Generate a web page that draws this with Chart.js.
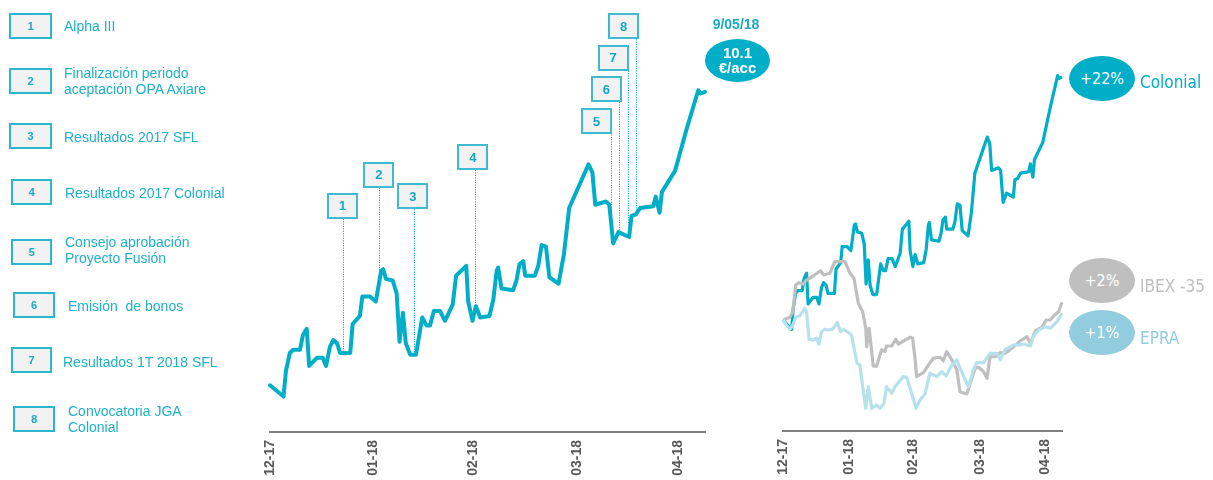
<!DOCTYPE html>
<html><head><meta charset="utf-8">
<script src="https://cdn.jsdelivr.net/npm/chart.js@4.4.1/dist/chart.umd.min.js"></script>
<style>
html,body{margin:0;padding:0;background:#fff;}
#wrap{position:relative;width:1213px;height:480px;overflow:hidden;font-family:"Liberation Sans",Arial,sans-serif;}
canvas{position:absolute;left:0;top:0;}
.lb{position:absolute;box-sizing:border-box;border:2px solid #2cb6cd;background:#f2f2f2;color:#1aa9c4;font-weight:bold;font-size:11px;display:flex;align-items:center;justify-content:center;}
.eb{position:absolute;box-sizing:border-box;border:2px solid #3fbad0;background:#f2f2f2;color:#14a8c3;font-weight:bold;font-size:13px;display:flex;align-items:center;justify-content:center;}
.lt{position:absolute;color:#1fb0ca;font-size:14px;line-height:16px;white-space:pre;}
.bub{position:absolute;border-radius:50%;color:#fff;display:flex;align-items:center;justify-content:center;text-align:center;}
.sl{position:absolute;font-family:"DejaVu Sans Condensed","DejaVu Sans",sans-serif;font-size:17px;white-space:pre;line-height:20px;}
</style></head><body><div id="wrap">
<canvas id="c1" width="1213" height="480"></canvas>
<canvas id="c2" width="1213" height="480"></canvas>
</div>
<script>
// ---------- DATA ----------
const monthLabels = ['12-17','01-18','02-18','03-18','04-18'];
const monthTickDay = [0, 21.4, 42.1, 63.6, 84.5];

// Colonial share price (EUR) – left chart
const colonialDay = [0,2.8,3.3,4.1,4.8,6.2,6.8,7.6,8.1,9.7,10.9,11.6,12.4,13.1,13.9,14.5,16.6,17.1,18.6,19.1,20.7,21.9,23.0,23.4,24.0,25.4,26.2,26.8,27.5,28.1,29.0,30.2,31.5,32.4,33.1,33.9,35.2,36.2,37.8,38.5,40.6,41.0,41.9,42.6,43.5,45.4,46.2,46.9,47.2,47.9,50.3,51.0,51.6,52.4,52.8,54.8,55.5,56.2,57.1,57.8,59.7,60.8,61.9,65.9,66.7,67.3,69.5,70.2,71.0,72.1,74.3,74.8,75.7,76.6,79.3,79.8,80.6,81.1,83.8,86.2,88.6,89.1,90.0];
const colonialPrice = [8.29,8.22,8.38,8.49,8.51,8.51,8.60,8.64,8.41,8.46,8.46,8.41,8.53,8.57,8.55,8.49,8.49,8.67,8.72,8.84,8.84,8.81,9.00,9.01,8.95,8.94,8.86,8.56,8.74,8.55,8.48,8.48,8.71,8.66,8.66,8.75,8.75,8.69,8.79,8.97,9.03,8.81,8.69,8.78,8.71,8.72,8.82,9.00,9.02,8.89,8.88,8.94,9.04,9.06,8.97,8.97,9.03,9.16,9.15,8.96,8.92,9.10,9.39,9.66,9.61,9.41,9.43,9.41,9.17,9.24,9.21,9.34,9.35,9.39,9.40,9.46,9.36,9.49,9.62,9.88,10.12,10.10,10.11];
// Colonial performance (%) rebased on first price – right chart
const colonialPct = colonialPrice.map(p => (p / colonialPrice[0] - 1) * 100);

const ibexDay = [0,2.2,3.2,4.1,5.2,6.5,7.6,9.7,12.1,13.2,15.1,16.7,20.0,21.6,22.9,24.3,25.7,26.7,27.0,27.8,29.1,30.2,31.8,32.9,33.4,35.1,36.4,37.2,39.4,41.0,41.8,42.6,43.1,45.3,46.9,48.5,50.7,51.7,52.8,54.8,56.1,57.1,59.3,60.4,62.0,63.1,64.7,65.8,66.8,68.5,70.1,71.7,74.4,76.5,78.7,79.8,81.4,83.5,84.9,86.2,87.3,88.9,90.0];
const ibexPct = [0,0.24,0.75,3.16,3.37,3.25,3.61,3.97,4.45,4.07,4.22,5.27,5.27,4.22,3.77,1.51,0.75,-0.75,-2.41,-0.75,-4.16,-4.16,-2.71,-2.86,-2.35,-2.35,-1.74,-2.17,-1.81,-1.56,-1.65,-3.46,-5.12,-4.76,-4.07,-3.46,-3.37,-3.68,-2.86,-3.77,-4.52,-6.48,-6.68,-5.72,-4.36,-4.27,-4.67,-5.27,-3.32,-3.32,-2.95,-3.01,-2.41,-1.90,-1.51,-2.10,-0.97,-0.66,0,0,0.36,0.75,1.6];

const epraDay = [0,1.1,2.2,3.2,4.1,5.4,7.0,7.6,8.4,9.7,10.8,11.6,12.4,13.5,14.6,16.0,17.5,18.6,19.4,20.7,22.1,22.6,23.9,24.8,25.7,26.7,27.5,28.6,30.2,31.3,32.6,33.4,35.1,36.1,38.8,39.9,41.5,42.9,44.2,45.8,47.4,49.6,51.2,52.6,54.5,56.1,57.1,59.8,61.4,62.5,64.7,66.8,69.0,70.1,71.7,74.4,76.5,77.6,79.8,80.8,82.4,84.6,86.2,88.4,90.0];
const epraPct = [0,-0.45,-0.84,-0.45,0.24,0.36,1.06,0.75,-1.74,-1.81,-1.65,-2.17,-1.06,-0.84,-0.90,-0.84,-0.24,-1.06,-0.84,-1.06,-1.36,-2.10,-3.91,-4.07,-6.03,-7.98,-6.03,-7.98,-7.68,-7.98,-7.52,-6.03,-6.62,-6.03,-5.12,-5.18,-6.62,-7.98,-7.23,-6.68,-4.81,-5.12,-4.67,-5.06,-4.07,-3.61,-4.36,-6.03,-4.52,-3.86,-3.86,-3.01,-3.01,-3.61,-2.65,-2.26,-2.26,-2.17,-2.35,-1.51,-0.90,-0.61,-0.75,-0.15,0.61];

const eventNumbers = ['1','2','3','4','5','6','7','8'];
const eventDay = [15.2,22.5,29.8,42.5,70.5,72.3,74.0,75.7];
const eventTexts = ['Alpha III','Finalización periodo\naceptación OPA Axiare','Resultados 2017 SFL','Resultados 2017 Colonial','Consejo aprobación\nProyecto Fusión','Emisión  de bonos','Resultados 1T 2018 SFL','Convocatoria JGA\nColonial'];

const lastDateLabel = '9/05/18';
const lastPriceLabel = ['10.1','€/acc'];
const seriesNames = ['Colonial','IBEX -35','EPRA'];
const perfLabels = ['+22%','+2%','+1%'];

// ---------- LAYOUT / STYLE ----------
const TEAL = '#00aec8', GREY = '#bfbfbf', LBLUE = '#b7e1ec';
const legendLayout = [
  {bx:9,by:13,bw:43,tx:64,ty:18},
  {bx:9,by:68,bw:43,tx:64,ty:65},
  {bx:9,by:123,bw:43,tx:64,ty:129},
  {bx:11,by:179,bw:41,tx:65,ty:185},
  {bx:11,by:239,bw:41,tx:65,ty:234},
  {bx:13,by:292,bw:42,tx:68,ty:298},
  {bx:11,by:347,bw:41,tx:63,ty:354},
  {bx:13,by:406,bw:42,tx:68,ty:403}
];
const eventBoxLayout = [
  {dx:-16.6,top:192.7},{dx:-15.4,top:161.7},{dx:-16.7,top:183.3},{dx:-18,top:144},
  {dx:-30,top:108.3},{dx:-28.6,top:76},{dx:-30,top:44.7},{dx:-27.7,top:13.3}
];
const perfLayout = [
  {cy:78.3, bg:TEAL, fg:TEAL, ty:81.7},
  {cy:280.8, bg:GREY, fg:GREY, ty:285.5},
  {cy:332.2, bg:'#92cddf', fg:'#92cddf', ty:338}
];

const wrap = document.getElementById('wrap');
function el(cls, css, txt){ const d=document.createElement('div'); d.className=cls; Object.assign(d.style,css); if(txt!==undefined) d.textContent=txt; wrap.appendChild(d); return d; }

// legend
eventTexts.forEach((t,i)=>{
  const L = legendLayout[i];
  el('lb',{left:L.bx+'px',top:L.by+'px',width:L.bw+'px',height:'26px'},eventNumbers[i]);
  el('lt',{left:L.tx+'px',top:L.ty+'px'},t);
});

function interp(xs, ys, x){
  for(let i=1;i<xs.length;i++){ if(x<=xs[i]){ const t=(x-xs[i-1])/(xs[i]-xs[i-1]); return ys[i-1]+t*(ys[i]-ys[i-1]); } }
  return ys[ys.length-1];
}

function xAxis(h){ return {
  type:'linear', min:0, max:90,
  grid:{display:false, drawTicks:false},
  border:{display:true, color:'#7f7f7f', width:2},
  afterBuildTicks(s){ s.ticks = monthTickDay.map(v=>({value:v})); },
  afterFit(s){ s.height = h; },
  ticks:{ autoSkip:false, minRotation:90, maxRotation:90, padding:8, color:'#595959',
    font:{family:'"Liberation Sans", Arial, sans-serif', size:14, weight:'bold'},
    callback:(v,i)=>monthLabels[i] }
};}

const eventLines = {
  id:'eventLines',
  beforeDatasetsDraw(chart){
    const ctx=chart.ctx, xs=chart.scales.x, ys=chart.scales.y;
    ctx.save();
    ctx.strokeStyle='#12aac6'; ctx.lineWidth=1; ctx.setLineDash([1.2,1.2]);
    eventDay.forEach((d,i)=>{
      const px = Math.round(xs.getPixelForValue(d))+0.5;
      const py = ys.getPixelForValue(interp(colonialDay, colonialPrice, d));
      const top = eventBoxLayout[i].top + 26;
      ctx.beginPath(); ctx.moveTo(px, top); ctx.lineTo(px, py); ctx.stroke();
    });
    ctx.restore();
  }
};

Chart.defaults.animation = false;
const c1 = new Chart(document.getElementById('c1'), {
  type:'line',
  data:{ datasets:[{ data: colonialDay.map((d,i)=>({x:d,y:colonialPrice[i]})), borderColor:TEAL, borderWidth:4, pointRadius:0, tension:0, clip:false, borderJoinStyle:'round', borderCapStyle:'round' }]},
  options:{ responsive:false, devicePixelRatio:1, events:[],
    layout:{ padding:{left:270,right:508,top:0,bottom:0} },
    plugins:{ legend:{display:false}, tooltip:{enabled:false} },
    scales:{ x:xAxis(48), y:{ display:false, min:8, max:10.68 } } },
  plugins:[eventLines]
});

const c2 = new Chart(document.getElementById('c2'), {
  type:'line',
  data:{ datasets:[
    { data: epraDay.map((d,i)=>({x:d,y:epraPct[i]})), borderColor:LBLUE, borderWidth:3.2, pointRadius:0, tension:0, clip:false, borderJoinStyle:'round' },
    { data: ibexDay.map((d,i)=>({x:d,y:ibexPct[i]})), borderColor:GREY, borderWidth:3.2, pointRadius:0, tension:0, clip:false, borderJoinStyle:'round' },
    { data: colonialDay.map((d,i)=>({x:d,y:colonialPct[i]})), borderColor:TEAL, borderWidth:3.2, pointRadius:0, tension:0, clip:false, borderJoinStyle:'round' }
  ]},
  options:{ responsive:false, devicePixelRatio:1, events:[],
    layout:{ padding:{left:783,right:151,top:0,bottom:0} },
    plugins:{ legend:{display:false}, tooltip:{enabled:false} },
    scales:{ x:xAxis(49), y:{ display:false, min:-10.03, max:28.91 } } }
});

// event boxes (HTML text), anchored to event dates through the scale
const xs1 = c1.scales.x;
eventDay.forEach((d,i)=>{
  const px = xs1.getPixelForValue(d);
  const L = eventBoxLayout[i];
  el('eb',{left:(px+L.dx)+'px',top:L.top+'px',width:'31px',height:'26px'},eventNumbers[i]);
});

// last price callout
el('lt',{left:'700px',top:'16px',width:'72px',textAlign:'center',fontWeight:'bold',fontSize:'14px',color:'#1aaac5'},lastDateLabel);
const pb = el('bub',{left:'705px',top:'38.5px',width:'65px',height:'43px',background:TEAL,fontWeight:'bold',fontSize:'15px',lineHeight:'15px',flexDirection:'column'});
lastPriceLabel.forEach(t=>{ const s=document.createElement('div'); s.textContent=t; pb.appendChild(s); });

// performance bubbles and series names
perfLayout.forEach((L,i)=>{
  el('bub',{left:'1069px',top:(L.cy-22.7)+'px',width:'66px',height:'45.4px',background:L.bg,fontFamily:'"DejaVu Sans Condensed","DejaVu Sans",sans-serif',fontSize:'16px'},perfLabels[i]);
  el('sl',{left:'1140px',top:(L.ty-10)+'px',color:L.fg},seriesNames[i]);
});
</script>
</body></html>
